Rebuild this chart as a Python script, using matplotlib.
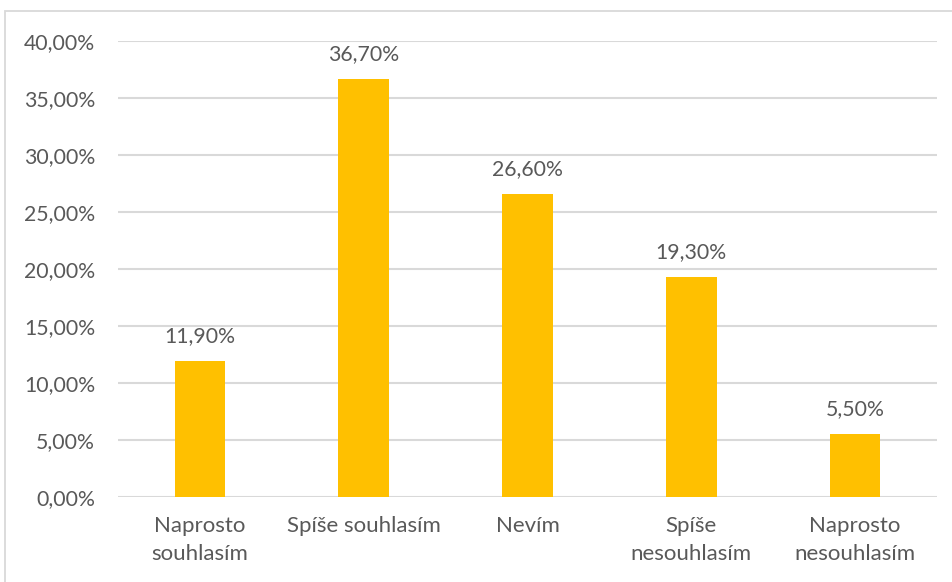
import matplotlib.pyplot as plt
from matplotlib.patches import Rectangle
from matplotlib.ticker import FuncFormatter

# odpovedi a podily respondentu (%)
kategorie = ["Naprosto\nsouhlasím", "Spíše souhlasím", "Nevím",
             "Spíše\nnesouhlasím", "Naprosto\nnesouhlasím"]
podily = [11.9, 36.7, 26.6, 19.3, 5.5]
yticky = [0, 5, 10, 15, 20, 25, 30, 35, 40]

plt.rcParams['font.family'] = ['Lato', 'DejaVu Sans']
seda = '#595959'
fs = 15.3

fig = plt.figure(figsize=(9.52, 5.82), dpi=100)
ax = fig.add_axes([118/952, 1 - 497/582, (937 - 118)/952, (497 - 41)/582])

# ramecek kolem grafu
fig.patches.append(Rectangle((5/952, -0.1), 1.2, 1.1 - 11/582,
                             transform=fig.transFigure, fill=False,
                             edgecolor='#D9D9D9', linewidth=1.3))

x = range(len(kategorie))
ax.bar(x, podily, width=0.31, color='#FFC000', zorder=3)

for i, v in zip(x, podily):
    ax.annotate(f"{v:.2f}%".replace('.', ','), (i, v), xytext=(0, 13.5),
                textcoords='offset points', ha='center', va='baseline',
                fontsize=fs, color=seda)

ax.set_xlim(-0.5, len(kategorie) - 0.5)
ax.set_ylim(0, 40)
ax.set_yticks(yticky)
ax.yaxis.set_major_formatter(FuncFormatter(lambda v, p: f"{v:.2f}%".replace('.', ',')))
ax.set_xticks(list(x))
ax.set_xticklabels(kategorie, linespacing=1.45, fontsize=16)
ax.tick_params(axis='both', length=0, labelcolor=seda)
ax.tick_params(axis='y', pad=16.5, labelsize=fs)
ax.tick_params(axis='x', pad=14)
ax.grid(axis='y', color='#D9D9D9', linewidth=1.5, zorder=0)
for s in ax.spines.values():
    s.set_visible(False)

fig.savefig('out.png', dpi=100)
